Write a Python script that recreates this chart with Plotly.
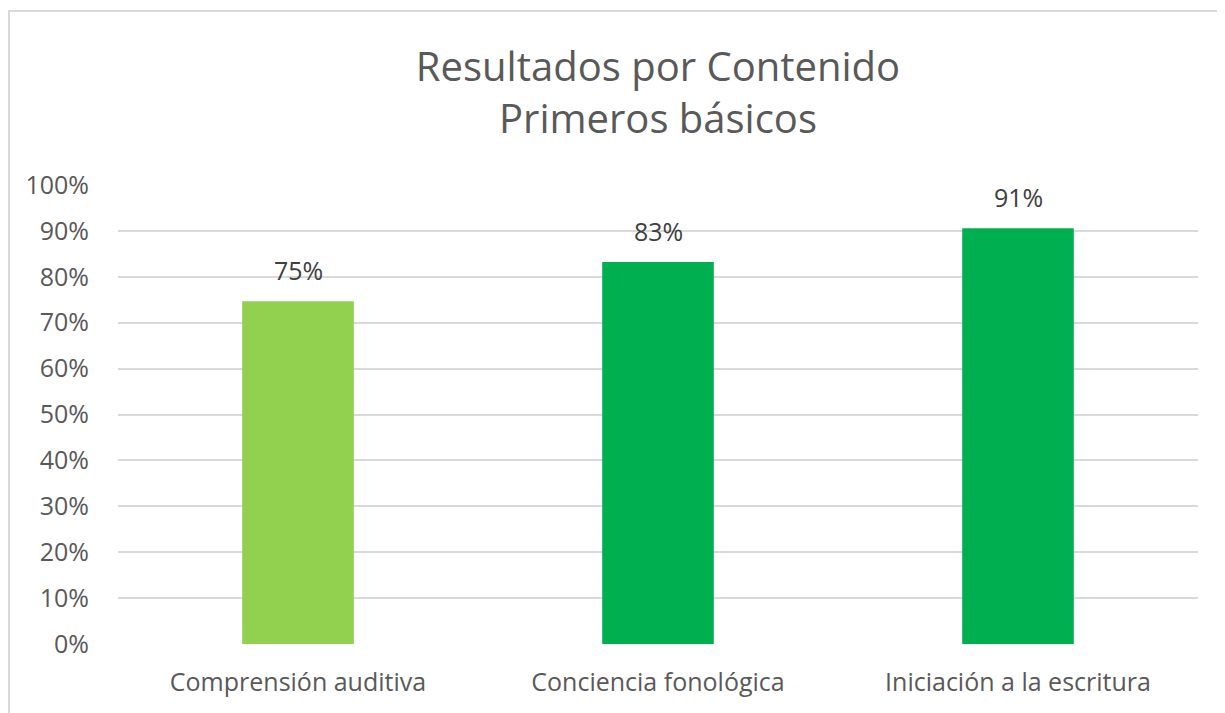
import plotly.graph_objects as go

categories = ["Comprensión auditiva", "Conciencia fonológica", "Iniciación a la escritura"]
values = [0.747, 0.832, 0.906]
labels = ["75%", "83%", "91%"]
colors = ["#92D050", "#00B050", "#00B050"]
y_ticks = [i / 10 for i in range(11)]
y_tick_text = [f"{i*10}%" for i in range(11)]

font_family = "'Open Sans', sans-serif"
text_color = "#595959"

# page has an 8px body margin; figure is sized/offset to compensate
W, H = 1217, 705
L, R, T, B = 110, 27, 177, 69
plot_w = W - L - R
plot_h = H - T - B

fig = go.Figure()
fig.add_trace(go.Bar(
    x=categories, y=values, marker=dict(color=colors, line=dict(width=0)),
    hoverinfo="skip", showlegend=False,
))

for c, v, t in zip(categories, values, labels):
    fig.add_annotation(x=c, y=v, text=t, showarrow=False, yanchor="bottom",
                       yshift=12, font=dict(family=font_family, size=25, color="#404040"))

fig.add_shape(type="rect", xref="paper", yref="paper",
              x0=(1 - L) / plot_w, x1=(W + 20 - L) / plot_w,
              y0=-(B + 20) / plot_h, y1=(plot_h + T - 3) / plot_h,
              line=dict(color="#D9D9D9", width=2), fillcolor="rgba(0,0,0,0)", layer="below")

fig.update_layout(
    width=W, height=H,
    margin=dict(l=L, r=R, t=T, b=B),
    paper_bgcolor="white", plot_bgcolor="white",
    bargap=0.69,
    title=dict(text="Resultados por Contenido<br>Primeros básicos", x=0.5, xanchor="center",
               xref="paper", y=1 - 73 / H, yanchor="middle", yref="container",
               font=dict(family=font_family, size=40, color=text_color)),
    font=dict(family=font_family, color=text_color),
    xaxis=dict(showgrid=False, showline=False, zeroline=False, ticks="",
               tickfont=dict(size=25, color=text_color), ticklabelstandoff=21),
    yaxis=dict(range=[0, 1.0], tickvals=y_ticks, ticktext=y_tick_text,
               showgrid=True, gridcolor="#D9D9D9", gridwidth=1.5, zeroline=False,
               showline=False, ticks="", tickfont=dict(size=25, color=text_color),
               ticklabelstandoff=28),
)

fig.write_html("out.html")
